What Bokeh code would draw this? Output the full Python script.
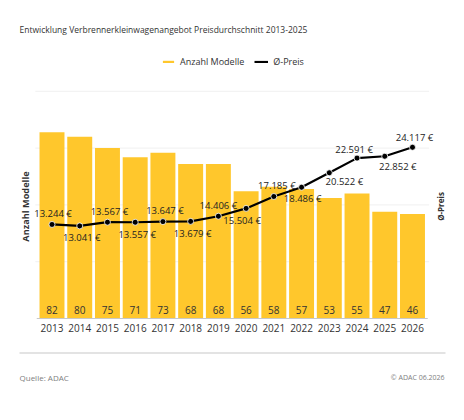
import math
from bokeh.plotting import figure
from bokeh.models import (ColumnDataSource, Label, Legend, LegendItem, Range1d, BoxAnnotation)
from bokeh.embed import file_html
from bokeh.resources import INLINE

years = [2013,2014,2015,2016,2017,2018,2019,2020,2021,2022,2023,2024,2025,2026]
models = [82,80,75,71,73,68,68,56,58,57,53,55,47,46]
prices = [13244,13041,13567,13557,13647,13679,14406,15504,17185,18486,20522,22591,22852,24117]
price_labels = ["13.244 €","13.041 €","13.567 €","13.557 €","13.647 €","13.679 €","14.406 €",
                "15.504 €","17.185 €","18.486 €","20.522 €","22.591 €","22.852 €","24.117 €"]
grid_ticks = [25, 50, 75, 100]
title_text = "Entwicklung Verbrennerkleinwagenangebot Preisdurchschnitt 2013-2025"

label_offsets_y = [11,-12,11,-12,11,-12,11,-12,11,-11,-9,9,-10,10]
label_offsets_x = [1,2,2,2,2,2,0,-4,3,1,15,-3,13,2]
FONT = "Open Sans"
DARK = "#333333"
YELLOW = "#FFC72C"
W, H = 456, 412
PX_X = 27.73      # pixels per year
PX_Y = 2.272      # pixels per model
X0_PX, Y0_PX = 51.5, 318   # canvas position of 2013 / of zero
PRICE_PER_MODEL = 320

x_start = 2013 - X0_PX / PX_X
y_start = -(H - Y0_PX) / PX_Y
y_end = Y0_PX / PX_Y

p = figure(width=W, height=H, x_range=Range1d(x_start, x_start + W / PX_X), y_range=Range1d(y_start, y_end),
           x_axis_location=None, y_axis_location=None,
           output_backend="svg", toolbar_location=None,
           min_border=0, outline_line_color=None, background_fill_color="white")
p.extra_y_ranges = {"price": Range1d(y_start * PRICE_PER_MODEL, y_end * PRICE_PER_MODEL)}
p.grid.visible = False

src = ColumnDataSource(dict(year=years, models=models, price=prices))

p.segment(x0=[2012.4] * len(grid_ticks), x1=[2026.6] * len(grid_ticks), y0=grid_ticks, y1=grid_ticks,
          line_color="#f0f0f0", line_width=1)
bars = p.vbar(x="year", top="models", width=0.9, source=src, fill_color=YELLOW, line_color=None)
p.segment(x0=[2012.45], x1=[2026.55], y0=[0], y1=[0], line_color="#c8c8c8", line_width=1)
line = p.line(x="year", y="price", y_range_name="price", source=src, line_color="black", line_width=2.2)
p.scatter(x="year", y="price", y_range_name="price", source=src, size=6, marker="circle",
          fill_color="black", line_color="white", line_width=0.8)

for yr, m, pr, txt, oy, ox in zip(years, models, prices, price_labels, label_offsets_y, label_offsets_x):
    p.add_layout(Label(x=yr, y=0, y_offset=-9, text=str(yr), text_align="center", text_baseline="middle",
                       text_font=FONT, text_font_size="10px", text_color=DARK))
    p.add_layout(Label(x=yr, y=0, y_offset=9, text=str(m), text_align="center", text_baseline="middle",
                       text_font=FONT, text_font_size="10px", text_color=DARK))
    p.add_layout(Label(x=yr, y=pr, y_range_name="price", x_offset=ox, y_offset=oy, text=txt, text_align="center",
                       text_baseline="middle", text_font=FONT, text_font_size="9.5px", text_color="#222222"))

legend = Legend(items=[LegendItem(label="Anzahl Modelle", renderers=[bars]), LegendItem(label="Ø-Preis", renderers=[line])],
                orientation="horizontal", location=(161, 344), glyph_width=14, glyph_height=3,
                label_standoff=5, spacing=10, padding=0, margin=0, background_fill_alpha=0, border_line_color=None,
                label_text_font=FONT, label_text_font_size="9px", label_text_color=DARK, label_height=12)
p.add_layout(legend, "center")

def canvas_text(x, y, text, size, color, **kw):
    p.add_layout(Label(x=x, y=y, x_units="canvas", y_units="canvas", text=text, text_font=FONT,
                       text_font_size=size, text_color=color, text_baseline="middle", **kw))

canvas_text(19, 29, title_text, "8.5px", DARK)
canvas_text(19, 377, "Quelle: ADAC", "8px", "#808080")
canvas_text(444, 377, "© ADAC 06.2026", "7px", "#808080", text_align="right")
canvas_text(25, 206, "Anzahl Modelle", "9.2px", DARK, text_align="center", angle=math.pi / 2, text_font_style="bold")
canvas_text(440, 206, "Ø-Preis", "8px", DARK, text_align="center", angle=math.pi / 2, text_font_style="bold")
p.add_layout(BoxAnnotation(left=19, right=445, top=352, bottom=353, left_units="canvas", right_units="canvas",
                           top_units="canvas", bottom_units="canvas", fill_color="#c8c8c8", fill_alpha=1,
                           line_color=None))

open("out.html", "w").write(file_html(p, INLINE))
